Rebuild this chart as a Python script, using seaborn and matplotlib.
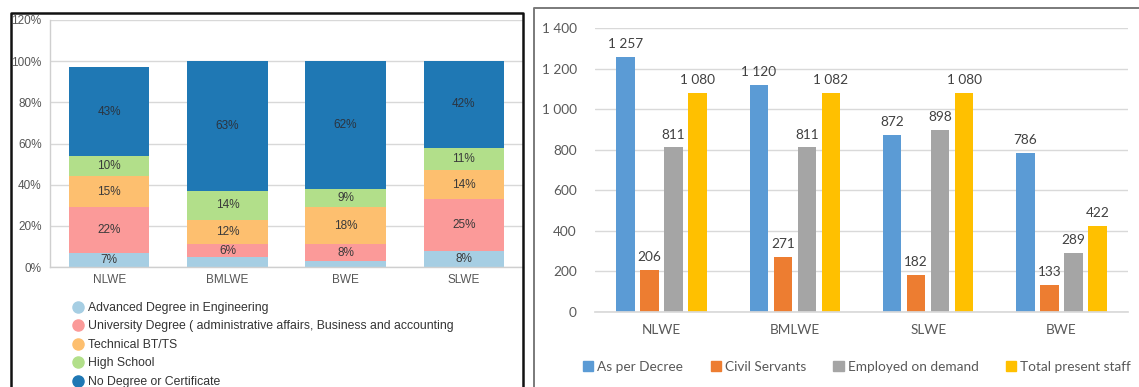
import numpy as np
import pandas as pd
import matplotlib
matplotlib.use("Agg")
import matplotlib.pyplot as plt
from matplotlib.lines import Line2D
from matplotlib.patches import Patch
from matplotlib.ticker import FixedLocator, FuncFormatter
import seaborn as sns

# ---- data: education profile of staff (share, %) ----
units_edu = ["NLWE", "BMLWE", "BWE", "SLWE"]
edu_levels = [
    "Advanced Degree in Engineering",
    "University Degree ( administrative affairs, Business and accounting",
    "Technical BT/TS",
    "High School",
    "No Degree or Certificate",
]
advanced = [7, 5, 3, 8]
university = [22, 6, 8, 25]
technical = [15, 12, 18, 14]
high_school = [10, 14, 9, 11]
no_degree = [43, 63, 62, 42]
edu_pct_ticks = [0, 20, 40, 60, 80, 100, 120]

# ---- data: staff numbers ----
units_staff = ["NLWE", "BMLWE", "SLWE", "BWE"]
staff_groups = ["As per Decree", "Civil Servants", "Employed on demand", "Total present staff"]
as_per_decree = [1257, 1120, 872, 786]
civil_servants = [206, 271, 182, 133]
employed_on_demand = [811, 811, 898, 289]
total_present = [1080, 1082, 1080, 422]
staff_ticks = [0, 200, 400, 600, 800, 1000, 1200, 1400]

sns.set_theme(style="white")
plt.rcParams["font.family"] = ["Liberation Sans", "DejaVu Sans"]

W, H = 1139, 387
fig = plt.figure(figsize=(W / 100, H / 100), dpi=100)
fig.patch.set_facecolor("white")


def px_axes(x0, y_top, x1, y_bot):
    return fig.add_axes([x0 / W, 1 - y_bot / H, (x1 - x0) / W, (y_bot - y_top) / H])


# ================= left: stacked education shares =================
paired = sns.color_palette("Paired")
edu_colors = [paired[0], paired[4], paired[6], paired[2], paired[1]]
layers = [advanced, university, technical, high_school, no_degree]

axl = px_axes(50, 20, 523, 267)
edu_df = pd.DataFrame({"unit": units_edu})
cum = np.cumsum(np.array(layers, dtype=float), axis=0)
# draw tallest cumulative layer first, then overpaint the lower ones
for i in range(len(layers) - 1, -1, -1):
    edu_df["cum"] = cum[i]
    sns.barplot(data=edu_df, x="unit", y="cum", color=edu_colors[i], width=0.68,
                saturation=1, linewidth=0, ax=axl)

for i, vals in enumerate(layers):
    for j, v in enumerate(vals):
        if v >= 6:
            mid = cum[i][j] - v / 2
            axl.text(j, mid, f"{v}%", ha="center", va="center", fontsize=8.5,
                     color="#2b3440" if i == 4 else "#3a3a3a")

axl.set_xlim(-0.5, 3.5)
axl.set_ylim(0, 120)
axl.yaxis.set_major_locator(FixedLocator(edu_pct_ticks))
axl.yaxis.set_major_formatter(FuncFormatter(lambda v, p: f"{v:.0f}%"))
axl.set_xlabel("")
axl.set_ylabel("")
axl.grid(axis="y", color="#d8d8d8", linewidth=1)
axl.set_axisbelow(True)
for s in ["top", "right"]:
    axl.spines[s].set_visible(False)
for s in ["left", "bottom"]:
    axl.spines[s].set_color("#cfcfcf")
    axl.spines[s].set_linewidth(1)
axl.tick_params(axis="both", length=0, labelsize=8.5, labelcolor="#555555")
axl.tick_params(axis="y", pad=6)
axl.tick_params(axis="x", pad=5)

edu_handles = [Line2D([0], [0], marker="o", linestyle="", markersize=8,
                      markerfacecolor=c, markeredgecolor=c) for c in edu_colors]
fig.legend(edu_handles, edu_levels, loc="upper left",
           bbox_to_anchor=(72 / W, 1 - 302 / H), frameon=False, fontsize=8.8,
           labelcolor="#333333", handletextpad=0.35, labelspacing=0.53,
           borderaxespad=0, borderpad=0, handlelength=1.0)

# ================= right: staff numbers =================
staff_colors = ["#5B9BD5", "#ED7D31", "#A5A5A5", "#FFC000"]
staff_df = pd.DataFrame({
    "unit": np.repeat(units_staff, len(staff_groups)),
    "group": staff_groups * len(units_staff),
    "value": np.ravel(np.column_stack([as_per_decree, civil_servants,
                                       employed_on_demand, total_present])),
})

axr = px_axes(595, 28, 1128, 312)
sns.barplot(data=staff_df, x="unit", y="value", hue="group", order=units_staff,
            hue_order=staff_groups, palette=staff_colors, saturation=1,
            width=0.72, gap=0.23, linewidth=0, ax=axr, legend=False)


def space_thousands(v, p=None):
    return f"{v:,.0f}".replace(",", " ")


for cont in axr.containers:
    axr.bar_label(cont, labels=[space_thousands(b.get_height()) for b in cont],
                  padding=5, fontsize=9.8, color="#404040", family="Lato")

axr.set_xlim(-0.5, 3.5)
axr.set_ylim(0, 1400)
axr.yaxis.set_major_locator(FixedLocator(staff_ticks))
axr.yaxis.set_major_formatter(FuncFormatter(space_thousands))
axr.set_xlabel("")
axr.set_ylabel("")
axr.grid(axis="y", color="#d9d9d9", linewidth=1)
axr.set_axisbelow(True)
for s in ["top", "right", "left"]:
    axr.spines[s].set_visible(False)
axr.spines["bottom"].set_color("#d9d9d9")
axr.tick_params(axis="both", length=0, labelsize=9.8, labelcolor="#595959")
for lab in axr.get_xticklabels() + axr.get_yticklabels():
    lab.set_family("Lato")
axr.tick_params(axis="y", pad=13)
axr.tick_params(axis="x", pad=9)

staff_handles = [Patch(facecolor=c, edgecolor=c) for c in staff_colors]
fig.legend(staff_handles, staff_groups, loc="center",
           bbox_to_anchor=(857 / W, 1 - 367 / H), ncol=4, frameon=False,
           prop={"family": "Lato", "size": 9.8}, labelcolor="#595959",
           handlelength=0.75, handleheight=0.75, handletextpad=0.3,
           columnspacing=2.0, borderaxespad=0, borderpad=0)

# ---- panel frames ----
def fig_line(xs, ys, color, lw):
    fig.add_artist(Line2D([x / W for x in xs], [1 - y / H for y in ys],
                          color=color, linewidth=lw, solid_capstyle="projecting"))


fig_line([10.5, 10.5, 522.5, 522.5], [H + 2, 13, 13, H + 2], "#111111", 1.8)
fig_line([534, 534, W + 2], [H + 2, 8, 8], "#7a7a7a", 1.4)

fig.savefig("out.png", dpi=100, facecolor="white")
